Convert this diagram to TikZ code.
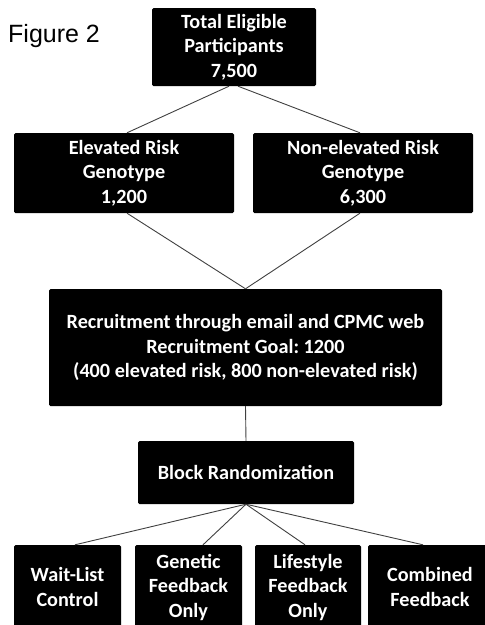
\documentclass[tikz,border=0pt]{standalone}
\usepackage{fontspec}
\setmainfont{Carlito}
\newfontfamily\figfont{Liberation Sans}
\frenchspacing
\begin{document}
\begin{tikzpicture}
	[x=1pt,y=-1pt,
	box/.style={rectangle,fill=black,text=white,rounded corners=1.5pt,align=center,inner sep=0pt,font=\bfseries\fontsize{20.2}{24.5}\selectfont},
	link/.style={draw=black!75,line width=0.9pt}]
	\clip (0,0) rectangle (485,625);
	\node[anchor=base west,inner sep=0pt,font=\figfont\fontsize{25}{30}\selectfont,name=fig] at (8,42) {Figure 2};
	\node[box,name=total,minimum width=164pt,minimum height=78pt] at (234,47) {Total Eligible\\Participants\\7,500};
	\node[box,name=elev,minimum width=220pt,minimum height=80pt] at (124,173) {Elevated Risk\\Genotype\\1,200};
	\node[box,name=nonelev,minimum width=220pt,minimum height=80pt] at (363,173) {Non-elevated Risk\\Genotype\\6,300};
	\node[box,name=recruit,minimum width=393pt,minimum height=117pt] at (245.5,347.5) {Recruitment through email and CPMC web\\Recruitment Goal: 1200\\(400 elevated risk, 800 non-elevated risk)};
	\node[box,name=block,minimum width=216pt,minimum height=63pt] at (246,472.5) {Block Randomization};
	\node[box,name=wait,minimum width=107pt,minimum height=84pt] at (67.5,587) {Wait-List\\Control};
	\node[box,name=genetic,minimum width=107pt,minimum height=84pt] at (188.5,587) {Genetic\\Feedback\\Only};
	\node[box,name=lifestyle,minimum width=106pt,minimum height=84pt] at (308,587) {Lifestyle\\Feedback\\Only};
	\node[box,name=combined,minimum width=124pt,minimum height=84pt] at (430,587) {Combined\\Feedback};
	\draw[link]([xshift=-5pt]total.south)--([xshift=3pt]elev.north);
	\draw[link]([xshift=4pt]total.south)--([xshift=-3pt]nonelev.north);
	\draw[link]([xshift=3pt]elev.south)--(recruit.north);
	\draw[link]([xshift=-3pt]nonelev.south)--(recruit.north);
	\draw[link](recruit.south)--(block.north);
	\draw[link](block.south)--([xshift=7.5pt]wait.north);
	\draw[link](block.south)--([xshift=14.5pt]genetic.north);
	\draw[link](block.south)--([xshift=-3pt]lifestyle.north);
	\draw[link](block.south)--([xshift=-7pt]combined.north);
\end{tikzpicture}
\end{document}
